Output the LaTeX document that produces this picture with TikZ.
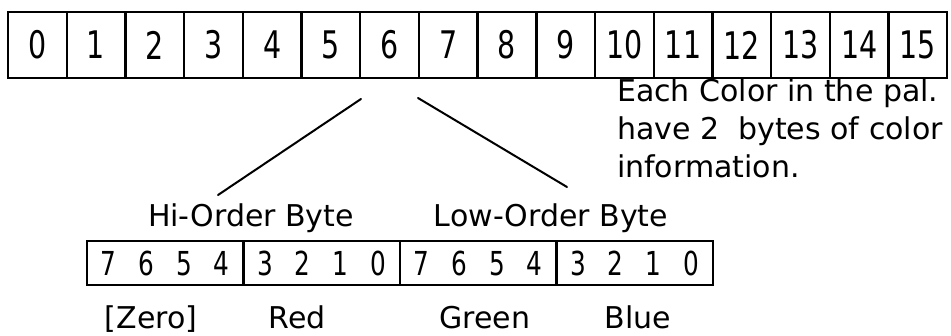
\documentclass[tikz,border=0pt]{standalone}
\usepackage{fontspec}
\setmainfont{DejaVu Sans}
\newfontfamily\chiffres[FakeStretch=0.75]{DejaVu Sans}
\newcommand{\quartet}[4]{#1\hspace{11pt}#2\hspace{11pt}#3\hspace{11pt}#4}

\begin{document}
\begin{tikzpicture}[x=0.5pt,y=-0.5pt]
\tikzstyle{trait}=[line width=1pt,line cap=round]
\tikzset{case/.style={draw,line width=1.2pt,inner sep=0pt,minimum width=#1},
case/.default={29.35pt},
texte/.style={anchor=base,font=\fontsize{15}{18}\selectfont}}
\useasboundingbox (0,0) rectangle (951,336);

% la palette
\foreach \i in {0,...,15}
  \node[case,minimum height=33pt,font=\chiffres\fontsize{19}{20}\selectfont] (c\i) at ({37.35+58.7*\i},45) {\i};

\node[texte,anchor=base west] (n1) at (610,102) {Each Color in the pal.};
\node[texte,anchor=base west] (n2) at (610,140) {have 2\ \ bytes of color};
\node[texte,anchor=base west] (n3) at (610,177) {information.};

% les deux octets
\node[texte] (hi) at (251,227) {Hi-Order Byte};
\node[texte] (lo) at (551,227) {Low-Order Byte};

\node[case=78.25pt,minimum height=22pt,font=\chiffres\fontsize{16.5}{18}\selectfont] (b1) at (165.25,263) {\quartet{7}{6}{5}{4}};
\node[case=78.25pt,minimum height=22pt,font=\chiffres\fontsize{16.5}{18}\selectfont] (b2) at (321.75,263) {\quartet{3}{2}{1}{0}};
\node[case=78.25pt,minimum height=22pt,font=\chiffres\fontsize{16.5}{18}\selectfont] (b3) at (478.25,263) {\quartet{7}{6}{5}{4}};
\node[case=78.25pt,minimum height=22pt,font=\chiffres\fontsize{16.5}{18}\selectfont] (b4) at (634.75,263) {\quartet{3}{2}{1}{0}};

\node[texte] (zero) at (151,328) {[Zero]};
\node[texte] (red) at (297,328) {Red};
\node[texte] (green) at (485,328) {Green};
\node[texte] (blue) at (638,328) {Blue};

\coordinate (h0) at (361,99);
\coordinate (h1) at (218,195);
\coordinate (l0) at (418,98);
\coordinate (l1) at (567,187);
\draw[trait] (h0) -- (h1);
\draw[trait] (l0) -- (l1);

\end{tikzpicture}
\end{document}
